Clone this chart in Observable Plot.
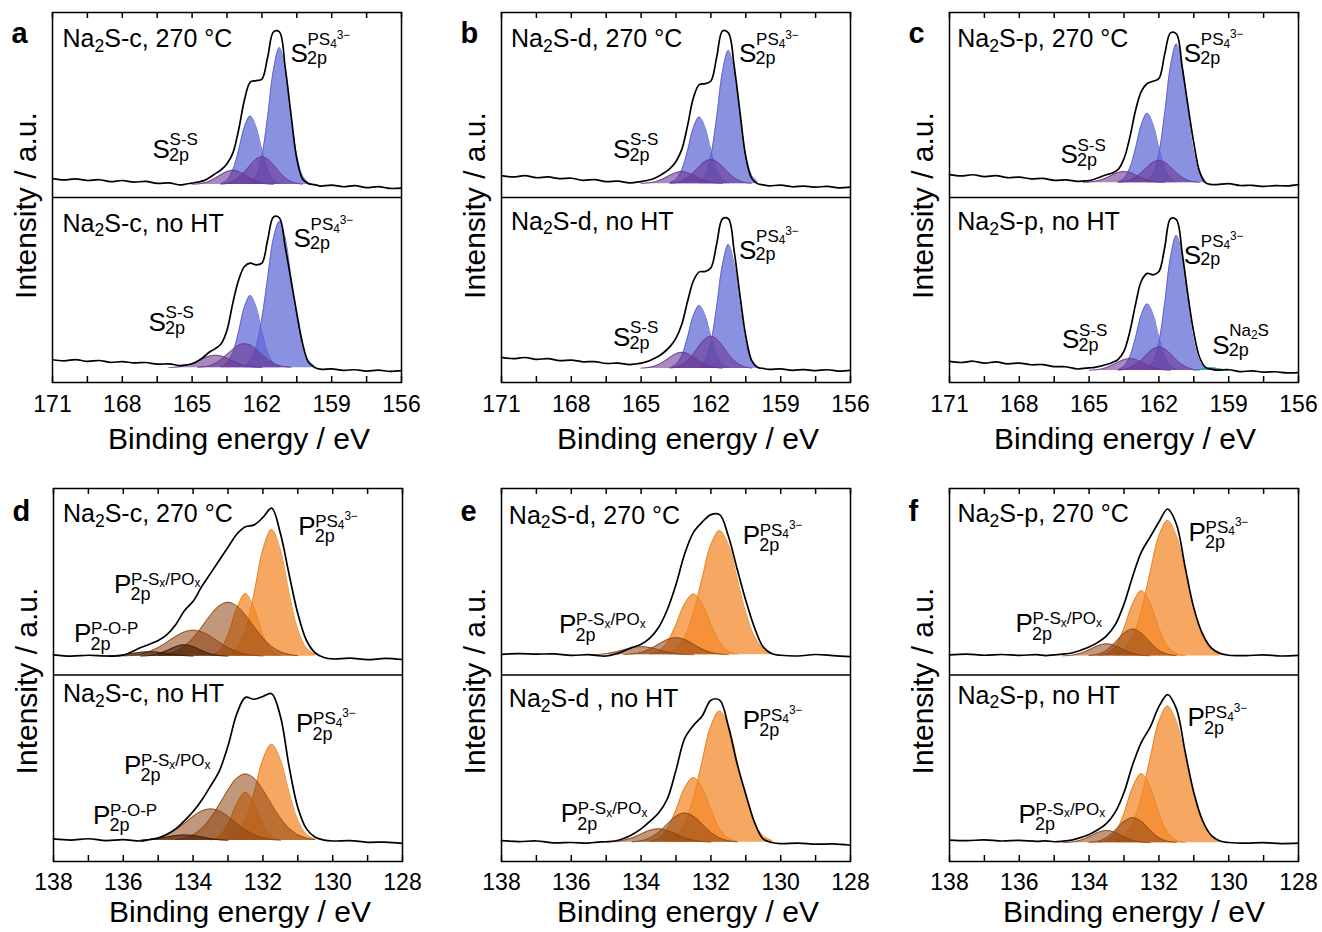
<!DOCTYPE html>
<html><head><meta charset="utf-8">
<script src="https://cdn.jsdelivr.net/npm/d3@7"></script>
<script src="https://cdn.jsdelivr.net/npm/@observablehq/plot@0.6"></script>
<style>
body{margin:0;background:#fff;}
#fig{position:relative;width:1322px;height:932px;overflow:hidden;background:#fff;}
</style></head><body><div id="fig"></div>
<script>
// ---------- energy grids (eV) ----------
const gridS = [171,170.5,170,169.5,169,168.5,168,167.5,167,166.5,166,165.5,165.25,165,164.75,164.5,164.25,164,163.75,163.5,163.25,163,162.75,162.5,162.25,162,161.75,161.5,161.25,161,160.75,160.5,160.25,160,159.75,159.5,159,158.5,158,157.5,157,156.5,156];
const gridP = [138,137.5,137,136.5,136,135.5,135.25,135,134.75,134.5,134.25,134,133.75,133.5,133.25,133,132.75,132.5,132.25,132,131.75,131.5,131.25,131,130.75,130.5,130.25,130,129.5,129,128.5,128];
const compGridS = [166,165.75,165.5,165.25,165,164.75,164.5,164.25,164,163.75,163.5,163.25,163,162.75,162.5,162.25,162,161.75,161.5,161.25,161,160.75,160.5,160.25,160,159.75,159.5,159.25,159];
const compGridP = [136.5,136.25,136,135.75,135.5,135.25,135,134.75,134.5,134.25,134,133.75,133.5,133.25,133,132.75,132.5,132.25,132,131.75,131.5,131.25,131,130.75,130.5,130.25,130];
const ticksS = [171,169.5,168,166.5,165,163.5,162,160.5,159,157.5,156];
const labelsS = [171,168,165,162,159,156];
const ticksP = [138,137,136,135,134,133,132,131,130,129,128];
const labelsP = [138,136,134,132,130,128];

// ---------- measured spectra (intensity, a.u., 0-100 per sub-panel) ----------
const specA270 = [10.2,9.5,10.1,9.2,9.6,8.6,9.2,8.3,8.7,7.6,7.9,6.8,7.3,7.8,8.3,9.1,10.8,12.9,15,18.3,24,36.6,52.7,62.4,63.2,64,76,89.5,89.5,70.5,45,21,10,7.5,7,6.2,6.7,5.8,6.4,5.3,5.9,4.9,5.1];
const specANo  = [12.3,11.7,12.4,11.4,11.9,10.9,11.3,10.6,10.8,9.9,10.1,9.1,9.5,10.1,11.6,13.8,16.5,18.3,21,28.3,42.9,55.4,62.7,64.5,63.6,64.5,77.2,89.5,89,73.5,55.4,37.3,21,11,8.3,7.2,7.4,6.6,6.9,6.2,6.7,6.0,6.4];
const specB270 = [11.8,11.1,11.8,10.7,11.1,10.2,10.4,9.3,9.7,8.6,8.8,7.9,8.2,8.6,9.2,10.0,11.5,13.4,15.8,19.5,26,39,54,61,61.5,63,76,90,89,71,46,22,10.5,7.5,6.8,6.3,6.7,5.8,6.2,5.6,6.0,5.2,5.6];
const specBNo  = [13.6,12.9,13.5,12.5,12.9,11.8,12.1,11.2,11.3,10.3,10.5,9.7,10.0,10.5,11.3,12.6,14.2,16.5,19.5,24,31.5,44,55,59.8,60,62,75,88.5,88.5,71,47,25,12,8.2,7.6,7.1,7.4,6.6,7.0,6.4,6.9,6.2,6.6];
const specC270 = [12.4,11.7,12.3,11.3,11.8,10.7,11.0,10.1,10.3,9.3,9.5,8.7,8.9,9.1,10.0,11.2,12.3,13.2,15.2,21,32.5,47.3,57.5,61.6,62.8,64.3,77.5,89,88.5,70.6,49.5,29.5,14,8,7,7.0,7.5,6.5,6.6,6.0,6.4,6.3,7.0];
const specCNo  = [11.4,10.8,11.5,10.5,11.1,10.1,10.5,9.6,9.7,8.6,8.5,7.3,7.6,7.9,8.2,8.9,9.7,10.8,12.5,17,27.5,42.5,55,59,58.2,60,73,88.5,88,70,47,27,13.5,8.2,7.2,6.7,6.9,5.9,6.3,5.6,5.8,5.2,5.3];
const specD270 = [10.8,10.1,10.6,10.2,10.6,14.7,16.5,18.5,21.7,27,34.5,39.5,47.5,54.5,61.5,68.5,75.5,79.5,80.5,84.5,89.5,76,54,33,18.5,11.8,9.4,8.6,9.0,8.2,8.9,8.3];
const specDNo  = [12.1,11.5,12.2,11.2,11.7,11.0,11.8,12.6,14.6,17.5,21.8,26.8,33,40.5,48.5,62,79,88,87,88.5,90,78,51,29,17.5,13,11.5,11.0,11.2,10.3,10.4,9.7];
const specE270 = [11.1,11.5,11.2,11.3,10.5,10.9,10.4,10.2,11.1,12.8,14.8,16.5,19.8,25.5,35,48.5,65,76.5,82,86,86,74.5,57,40,25.4,15,11.4,10.6,10.2,11.0,10.4,9.8];
const specENo  = [11.2,10.7,11.0,10.0,10.2,9.9,10.4,10.6,11.0,12.3,14.5,17.5,21.5,26,33.5,49,66,73,78,86.5,86.5,72.5,52.5,36,21,12,10.2,9.6,9.9,9.3,9.4,8.7];
const specF270 = [10.8,11.2,10.6,11.0,10.5,10.9,10.4,10.8,11.2,11.8,13.2,15,17.5,21,27,38,53,66,74,82,89,81,58,36,22,14.5,11.6,10.6,10.4,10.8,10.2,10.5];
const specFNo  = [11.5,11.2,11.6,11.0,11.3,10.8,11.1,10.6,10.9,11.5,12.8,14.5,17,20.5,26.5,37,52,64,72,83,89.5,82,59,37,22,14,11,10.2,9.8,10.1,9.6,9.8];

// ---------- fit backgrounds (a.u.) ----------
const basesS = {a270: 7, aNo: 8, b270: 7.5, bNo: 7.6, c270: 8, cNo: 6.5};
const basesP = {d270: 10, dNo: 11.2, e270: 10.8, eNo: 10.3, f270: 10.2, fNo: 10};

// ---------- fitted components (height above background, on component grid from "from") ----------
const compsA270 = [
  {kind:"PS4", from:162.5, v:[1.0,4.6,15.5,37,62.2,74,62.2,37,15.5,4.6,1.0]},
  {kind:"PS4", from:163.75, v:[0.5,2.3,7.8,18.5,31.1,37,31.1,18.5,7.8,2.3,0.5]},
  {kind:"SS", from:163.75, v:[0.2,0.6,1.7,3.6,6.8,10.5,13.7,15,13.7,10.5,6.8,3.6,1.7,0.6,0.2]},
  {kind:"SS", from:165.0, v:[0.1,0.3,0.8,1.9,3.5,5.4,7.0,7.7,7.0,5.4,3.5,1.9,0.8,0.3,0.1]}];
const compsANo = [
  {kind:"PS4", from:162.75, v:[1.0,3.9,11.5,26.8,48.8,70.1,79,70.1,48.8,26.8,11.5,3.9,1.0]},
  {kind:"PS4", from:163.75, v:[0.5,2.4,8.2,19.5,32.8,39,32.8,19.5,8.2,2.4,0.5]},
  {kind:"SS", from:164.75, v:[0.2,0.5,1.1,2.4,4.4,7.1,9.9,12.2,13,12.2,9.9,7.1,4.4,2.4,1.1,0.5,0.2]},
  {kind:"SS", from:166.0, v:[0.1,0.2,0.6,1.2,2.3,3.6,5.1,6.3,6.7,6.3,5.1,3.6,2.3,1.2,0.6,0.2,0.1]}];
const compsB270 = [
  {kind:"PS4", from:162.5, v:[0.9,4.5,15.1,36,60.6,72,60.6,36,15.1,4.5,0.9]},
  {kind:"PS4", from:163.75, v:[0.5,2.3,7.6,18,30.3,36,30.3,18,7.6,2.3,0.5]},
  {kind:"SS", from:163.75, v:[0.2,0.5,1.4,3.2,5.9,9.1,11.9,13,11.9,9.1,5.9,3.2,1.4,0.5,0.2]},
  {kind:"SS", from:165.0, v:[0.1,0.3,0.7,1.6,2.9,4.6,5.9,6.5,5.9,4.6,2.9,1.6,0.7,0.3,0.1]}];
const compsBNo = [
  {kind:"PS4", from:162.5, v:[0.9,4.2,14.1,33.5,56.3,67,56.3,33.5,14.1,4.2,0.9]},
  {kind:"PS4", from:163.75, v:[0.4,2.1,7.1,17,28.6,34,28.6,17,7.1,2.1,0.4]},
  {kind:"SS", from:163.75, v:[0.2,0.7,1.9,4.2,7.8,12.2,15.9,17.4,15.9,12.2,7.8,4.2,1.9,0.7,0.2]},
  {kind:"SS", from:165.0, v:[0.1,0.4,1.0,2.1,3.9,6.1,8.0,8.7,8.0,6.1,3.9,2.1,1.0,0.4,0.1]}];
const compsC270 = [
  {kind:"PS4", from:162.5, v:[1.0,4.7,15.8,37.5,63.1,75,63.1,37.5,15.8,4.7,1.0]},
  {kind:"PS4", from:163.75, v:[0.5,2.3,7.9,18.8,31.5,37.5,31.5,18.8,7.9,2.3,0.5]},
  {kind:"SS", from:163.75, v:[0.2,0.5,1.3,2.9,5.4,8.4,11,12,11,8.4,5.4,2.9,1.3,0.5,0.2]},
  {kind:"SS", from:165.25, v:[0.1,0.3,0.7,1.5,2.7,4.2,5.5,6,5.5,4.2,2.7,1.5,0.7,0.3,0.1]}];
const compsCNo = [
  {kind:"PS4", from:162.5, v:[0.9,4.6,15.3,36.5,61.4,73,61.4,36.5,15.3,4.6,0.9]},
  {kind:"PS4", from:163.75, v:[0.5,2.3,7.6,18,30.3,36,30.3,18,7.6,2.3,0.5]},
  {kind:"SS", from:163.75, v:[0.2,0.5,1.4,3.1,5.7,8.9,11.6,12.7,11.6,8.9,5.7,3.1,1.4,0.5,0.2]},
  {kind:"SS", from:165.0, v:[0.1,0.3,0.7,1.6,2.9,4.5,5.9,6.4,5.9,4.5,2.9,1.6,0.7,0.3,0.1]},
  {kind:"Na2S", from:160.5, v:[0.1,0.5,1.1,1.5,1.1,0.5,0.1]}];
const compsD270 = [
  {kind:"PS4", from:133.0, v:[0.9,4.3,14.3,34,57.2,68,57.2,34,14.3,4.3,0.9]},
  {kind:"PS4", from:133.5, v:[0.4,2.9,11.4,25.6,33.6,25.6,11.4,2.9,0.4]},
  {kind:"PSx", from:135.0, v:[0.4,1.0,2.5,5.3,9.8,15.8,22.1,27.1,29,27.1,22.1,15.8,9.8,5.3,2.5,1.0,0.4]},
  {kind:"PSx", from:136.0, v:[0.2,0.5,1.2,2.6,4.7,7.6,10.7,13.1,14,13.1,10.7,7.6,4.7,2.6,1.2,0.5,0.2]},
  {kind:"POP", from:135.5, v:[0.1,0.4,1.3,3.1,5.2,6.2,5.2,3.1,1.3,0.4,0.1]},
  {kind:"POP", from:136.5, v:[0.1,0.4,0.8,1.5,2.2,2.5,2.2,1.5,0.8,0.4,0.1]}];
const compsDNo = [
  {kind:"PS4", from:133.0, v:[0.7,3.2,10.9,25.9,43.5,51.7,43.5,25.9,10.9,3.2,0.7]},
  {kind:"PS4", from:133.5, v:[0.3,2.3,8.8,19.8,25.9,19.8,8.8,2.3,0.3]},
  {kind:"PSx", from:134.5, v:[0.5,1.3,3.1,6.6,12.1,19.4,27.2,33.4,35.7,33.4,27.2,19.4,12.1,6.6,3.1,1.3,0.5]},
  {kind:"PSx", from:135.5, v:[0.2,0.6,1.5,3.1,5.8,9.2,13,15.9,17,15.9,13,9.2,5.8,3.1,1.5,0.6,0.2]},
  {kind:"POP", from:135.5, v:[0.1,0.4,1.0,1.9,2.7,3,2.7,1.9,1.0,0.4,0.1]}];
const compsE270 = [
  {kind:"PS4", from:133.25, v:[0.9,3.3,9.7,22.6,41.2,59.1,66.6,59.1,41.2,22.6,9.7,3.3,0.9]},
  {kind:"PS4", from:133.75, v:[0.4,2.0,6.8,16.3,27.4,32.6,27.4,16.3,6.8,2.0,0.4]},
  {kind:"PSx", from:134.5, v:[0.1,0.5,1.3,3.1,5.7,8.2,9.2,8.2,5.7,3.1,1.3,0.5,0.1]},
  {kind:"PSx", from:135.5, v:[0.1,0.2,0.6,1.5,2.7,3.9,4.4,3.9,2.7,1.5,0.6,0.2,0.1]}];
const compsENo = [
  {kind:"PS4", from:133.25, v:[0.9,3.4,10.3,23.9,43.5,62.4,70.4,62.4,43.5,23.9,10.3,3.4,0.9]},
  {kind:"PS4", from:133.75, v:[0.5,2.2,7.3,17.4,29.2,34.7,29.2,17.4,7.3,2.2,0.5]},
  {kind:"PSx", from:134.25, v:[0.2,0.8,2.3,5.3,9.7,13.9,15.7,13.9,9.7,5.3,2.3,0.8,0.2]},
  {kind:"PSx", from:135.0, v:[0.1,0.4,1.1,2.4,4.4,6.4,7.2,6.4,4.4,2.4,1.1,0.4,0.1]}];
const compsF270 = [
  {kind:"PS4", from:133.25, v:[0.9,3.6,10.6,24.6,44.9,64.4,72.6,64.4,44.9,24.6,10.6,3.6,0.9]},
  {kind:"PS4", from:133.75, v:[0.2,1.2,5.1,14.9,28.2,35,28.2,14.9,5.1,1.2,0.2]},
  {kind:"PSx", from:134.0, v:[0.2,0.9,3.0,7.3,12.2,14.5,12.2,7.3,3.0,0.9,0.2]},
  {kind:"PSx", from:134.75, v:[0.1,0.4,1.4,3.3,5.5,6.5,5.5,3.3,1.4,0.4,0.1]}];
const compsFNo = [
  {kind:"PS4", from:133.25, v:[1.0,3.6,10.7,24.9,45.4,65.1,73.4,65.1,45.4,24.9,10.7,3.6,1.0]},
  {kind:"PS4", from:133.75, v:[0.2,1.2,5.4,15.7,29.9,37,29.9,15.7,5.4,1.2,0.2]},
  {kind:"PSx", from:134.0, v:[0.2,0.8,2.8,6.8,11.4,13.5,11.4,6.8,2.8,0.8,0.2]},
  {kind:"PSx", from:134.75, v:[0.1,0.4,1.4,3.3,5.6,6.6,5.6,3.3,1.4,0.4,0.1]}];

// ---------- texts ----------
const sampleNames = {
  a: ["Na{_2}S-c, 270 °C", "Na{_2}S-c, no HT"], b: ["Na{_2}S-d, 270 °C", "Na{_2}S-d, no HT"],
  c: ["Na{_2}S-p, 270 °C", "Na{_2}S-p, no HT"], d: ["Na{_2}S-c, 270 °C", "Na{_2}S-c, no HT"],
  e: ["Na{_2}S-d, 270 °C", "Na{_2}S-d , no HT"], f: ["Na{_2}S-p, 270 °C", "Na{_2}S-p, no HT"]};
const sampleAt = {a:[[170.57,81.1],[170.57,81.6]], b:[[170.59,81.1],[170.59,82.7]], c:[[170.67,81.1],[170.67,82.2]],
  d:[[137.73,81.9],[137.73,85.3]], e:[[137.79,81.2],[137.79,82.7]], f:[[137.77,81.8],[137.77,84.7]]};
const PS4S = "PS{_4}{^3−}", PSX = "P-S{_x}/PO{_x}";
const peakLabels = {
  a: [{top:1,e:160.77,v:73.0,m:"S",s:PS4S,f:"S4"},{top:1,e:166.70,v:21.6,m:"S",s:"S-S",f:"S2"},
      {top:0,e:160.64,v:73.0,m:"S",s:PS4S,f:"S4"},{top:0,e:166.87,v:28.1,m:"S",s:"S-S",f:"S2"}],
  b: [{top:1,e:160.79,v:73.0,m:"S",s:PS4S,f:"S4"},{top:1,e:166.21,v:21.6,m:"S",s:"S-S",f:"S2"},
      {top:0,e:160.79,v:67.0,m:"S",s:PS4S,f:"S4"},{top:0,e:166.21,v:20.0,m:"S",s:"S-S",f:"S2"}],
  c: [{top:1,e:160.93,v:73.1,m:"S",s:PS4S,f:"S4"},{top:1,e:166.23,v:18.4,m:"S",s:"S-S",f:"S2"},
      {top:0,e:160.93,v:64.3,m:"S",s:PS4S,f:"S4"},{top:0,e:166.16,v:18.4,m:"S",s:"S-S",f:"S2"},
      {top:0,e:159.71,v:15.5,m:"S",s:"Na{_2}S",f:"SN"}],
  d: [{top:1,e:130.99,v:75.3,m:"P",s:PS4S,f:"P"},{top:1,e:136.27,v:44.2,m:"P",s:PSX,f:"P"},{top:1,e:137.41,v:17.6,m:"P",s:"P-O-P",f:"P"},
      {top:0,e:131.05,v:69.3,m:"P",s:PS4S,f:"P"},{top:0,e:135.98,v:47.0,m:"P",s:PSX,f:"P"},{top:0,e:136.87,v:20.2,m:"P",s:"P-O-P",f:"P"}],
  e: [{top:1,e:131.09,v:70.5,m:"P",s:PS4S,f:"P"},{top:1,e:136.35,v:22.3,m:"P",s:PSX,f:"P"},
      {top:0,e:131.09,v:71.3,m:"P",s:PS4S,f:"P"},{top:0,e:136.30,v:21.1,m:"P",s:PSX,f:"P"}],
  f: [{top:1,e:131.15,v:72.1,m:"P",s:PS4S,f:"P"},{top:1,e:136.11,v:22.8,m:"P",s:PSX,f:"P"},
      {top:0,e:131.18,v:72.4,m:"P",s:PS4S,f:"P"},{top:0,e:136.02,v:20.9,m:"P",s:PSX,f:"P"}]};

// ---------- styling / layout ----------
const FONT = "Arial, 'Liberation Sans', Helvetica, sans-serif";
const kindStyle = {
  PS4S:{fill:"#5e66d6",op:0.72,stroke:"#5a61cf"}, SS:{fill:"#6a3591",op:0.58,stroke:"#6a3591"},
  Na2S:{fill:"#2a9a9e",op:0.75,stroke:"#2a9a9e"}, PS4P:{fill:"#f3892c",op:0.75,stroke:"#e9801f"},
  PSx:{fill:"#8e4410",op:0.55,stroke:"#8e4410"}, POP:{fill:"#3d1a05",op:0.6,stroke:"#3d1a05"}};
const labelFmt = {S4:{sub:1.5,sup:-17}, S2:{sub:3,sup:-12.5}, SN:{sub:2,sup:-18}, P:{sub:7.5,sup:-8}};
const W = 349, ML = 60, MR = 30, TICKPX = 6;
const rows = [
  {top:0, mt:12, fh:370, mb:84, tickPad:13, titleDy:66, letterDy:30, yDy:8},
  {top:466, mt:22, fh:373, mb:71, tickPad:12, titleDy:60, letterDy:32, yDy:6}];
const panels = [
  {id:"a", row:0, left:52,   tdx:12, specs:[specA270,specANo], comps:[compsA270,compsANo], bases:[basesS.a270,basesS.aNo]},
  {id:"b", row:0, left:500.5,tdx:12, specs:[specB270,specBNo], comps:[compsB270,compsBNo], bases:[basesS.b270,basesS.bNo]},
  {id:"c", row:0, left:949,  tdx:1,  specs:[specC270,specCNo], comps:[compsC270,compsCNo], bases:[basesS.c270,basesS.cNo]},
  {id:"d", row:1, left:52.5, tdx:12, specs:[specD270,specDNo], comps:[compsD270,compsDNo], bases:[basesP.d270,basesP.dNo]},
  {id:"e", row:1, left:500.7,tdx:12, specs:[specE270,specENo], comps:[compsE270,compsENo], bases:[basesP.e270,basesP.eNo]},
  {id:"f", row:1, left:949,  tdx:10, specs:[specF270,specFNo], comps:[compsF270,compsFNo], bases:[basesP.f270,basesP.fNo]}];

function panelPlot(p) {
  const r = rows[p.row], isS = p.row === 0;
  const grid = isS ? gridS : gridP, cgrid = isS ? compGridS : compGridP;
  const tickLen = TICKPX * 200 / r.fh;   // tick length in y units
  const marks = [];
  [0, 1].forEach(k => {               // k=0: 270 °C (upper), k=1: no HT (lower)
    const off = k === 0 ? 100 : 0, base = p.bases[k];
    p.comps[k].forEach(c => {
      const st = kindStyle[c.kind === "PS4" ? (isS ? "PS4S" : "PS4P") : c.kind];
      const i0 = cgrid.indexOf(c.from);
      const pts = c.v.map((v, i) => ({e: cgrid[i0 + i], b: base + off, t: base + off + v}));
      marks.push(Plot.areaY(pts, {x:"e", y1:"b", y2:"t", fill:st.fill, fillOpacity:st.op, curve:"catmull-rom"}));
      marks.push(Plot.lineY(pts, {x:"e", y:"t", stroke:st.stroke, strokeWidth:1, strokeOpacity:0.85, curve:"catmull-rom"}));
    });
  });
  [0, 1].forEach(k => {
    const off = k === 0 ? 100 : 0;
    const pts = grid.map((e, i) => ({e, y: p.specs[k][i] + off}));
    marks.push(Plot.lineY(pts, {x:"e", y:"y", stroke:"#000", strokeWidth:1.7, curve:"catmull-rom"}));
  });
  marks.push(Plot.frame({stroke:"#000", strokeWidth:1.5}));
  marks.push(Plot.ruleY([100], {stroke:"#000", strokeWidth:1.5}));
  const tk = isS ? ticksS : ticksP, tl = isS ? labelsS : labelsP;
  // inward ticks on the outer bottom and top edges
  marks.push(Plot.ruleX(tk, {x: d => d, y1: 0, y2: tickLen, stroke:"#000", strokeWidth:1.5}));
  marks.push(Plot.ruleX(tk, {x: d => d, y1: 200 - tickLen, y2: 200, stroke:"#000", strokeWidth:1.5}));
  marks.push(Plot.axisX({anchor:"bottom", ticks:tl, tickSize:0, tickPadding:r.tickPad, tickFormat:d => String(d), label:null, fontSize:23}));
  // sample names
  const sn = sampleNames[p.id].map((t, k) => ({t, e: sampleAt[p.id][k][0], y: sampleAt[p.id][k][1] + (k === 0 ? 100 : 0)}));
  marks.push(Plot.text(sn, {x:"e", y:"y", text:"t", textAnchor:"start", lineAnchor:"bottom", fontSize:25}));
  // peak labels
  const pl = peakLabels[p.id].map(d => ({...d, y: d.v + (d.top ? 100 : 0)}));
  marks.push(Plot.text(pl, {x:"e", y:"y", text:"m", textAnchor:"start", lineAnchor:"bottom", fontSize:26}));
  Object.keys(labelFmt).forEach(f => {
    const sub = pl.filter(d => d.f === f);
    if (!sub.length) return;
    marks.push(Plot.text(sub, {x:"e", y:"y", text:() => "2p", dx:16.5, dy:labelFmt[f].sub, textAnchor:"start", lineAnchor:"bottom", fontSize:18}));
    marks.push(Plot.text(sub, {x:"e", y:"y", text:"s", dx:17, dy:labelFmt[f].sup, textAnchor:"start", lineAnchor:"bottom", fontSize:17}));
  });
  // panel letter, axis titles
  marks.push(Plot.text([p.id], {frameAnchor:"top-left", dx:-41, dy:r.letterDy, textAnchor:"start", lineAnchor:"bottom", fontSize:29, fontWeight:"bold"}));
  marks.push(Plot.text(["Intensity / a.u."], {frameAnchor:"left", rotate:-90, dx:-26, dy:r.yDy, textAnchor:"middle", lineAnchor:"middle", fontSize:30}));
  marks.push(Plot.text(["Binding energy / eV"], {frameAnchor:"bottom", dx:p.tdx, dy:r.titleDy, textAnchor:"middle", lineAnchor:"bottom", fontSize:30}));
  return Plot.plot({
    width: ML + W + MR, height: r.mt + r.fh + r.mb,
    marginLeft: ML, marginRight: MR, marginTop: r.mt, marginBottom: r.mb,
    x: {domain: isS ? [171, 156] : [138, 128], axis: null},
    y: {domain: [0, 200], axis: null},
    style: {fontFamily: FONT, fontSize: "23px", color: "#000", background: "transparent", overflow: "visible"},
    marks
  });
}

const svgNS = "http://www.w3.org/2000/svg";
function richify(root) {
  root.querySelectorAll("text").forEach(t => {
    const s = t.textContent;
    if (!/\{[_^]/.test(s)) return;
    const fs = parseFloat(getComputedStyle(t).fontSize) || 16;
    while (t.firstChild) t.removeChild(t.firstChild);
    const re = /\{([_^])([^}]*)\}/g;
    let last = 0, cur = 0, m;
    const add = (txt, kind) => {
      if (!txt) return;
      const ts = document.createElementNS(svgNS, "tspan");
      const target = kind === "_" ? 0.17 * fs : kind === "^" ? -0.4 * fs : 0;
      if (target !== cur) ts.setAttribute("dy", (target - cur).toFixed(2));
      if (kind) ts.setAttribute("font-size", (0.7 * fs).toFixed(2));
      ts.textContent = txt;
      t.appendChild(ts);
      cur = target;
    };
    while ((m = re.exec(s))) { add(s.slice(last, m.index), null); add(m[2], m[1]); last = re.lastIndex; }
    add(s.slice(last), null);
  });
}

const fig = document.getElementById("fig");
panels.forEach(p => {
  const svg = panelPlot(p);
  svg.style.position = "absolute";
  svg.style.left = (p.left - ML) + "px";
  svg.style.top = rows[p.row].top + "px";
  svg.style.maxWidth = "none";
  fig.appendChild(svg);
  richify(svg);
});
</script></body></html>
